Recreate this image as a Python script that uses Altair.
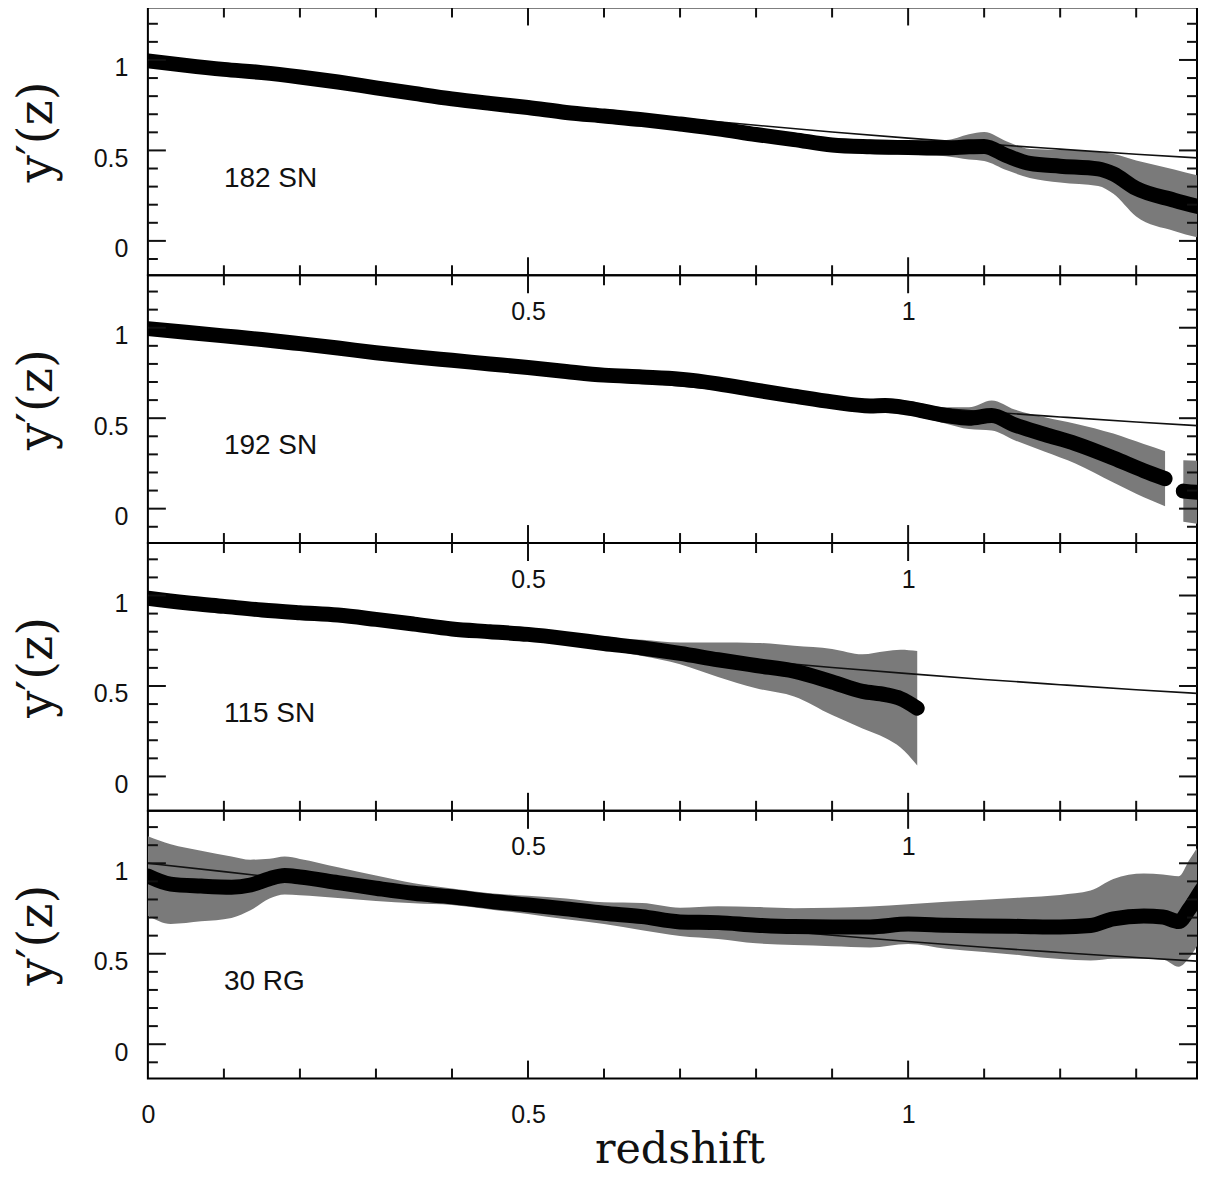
import altair as alt
import pandas as pd

# ---------------- data ----------------
# thin reference (model) curve, same in all panels
model_z = [0.0, 0.1, 0.2, 0.3, 0.4, 0.5, 0.6, 0.7, 0.8, 0.9, 1.0, 1.1, 1.2, 1.3, 1.4]
model_y = [1.0, 0.954, 0.906, 0.858, 0.810, 0.764, 0.720, 0.678, 0.639, 0.602,
           0.568, 0.536, 0.507, 0.479, 0.454]

# panel 1 : 182 SN
p1_z = [0.0, 0.05, 0.1, 0.15, 0.2, 0.25, 0.3, 0.35, 0.4, 0.45, 0.5, 0.55, 0.6, 0.65,
        0.7, 0.75, 0.8, 0.85, 0.9, 0.95, 1.0, 1.05, 1.08, 1.1, 1.13, 1.16, 1.2, 1.25,
        1.27, 1.3, 1.35, 1.4]
p1_y = [0.995, 0.97, 0.948, 0.93, 0.906, 0.878, 0.846, 0.815, 0.785, 0.76, 0.737, 0.71,
        0.69, 0.67, 0.646, 0.62, 0.588, 0.56, 0.53, 0.52, 0.516, 0.513, 0.52, 0.522,
        0.47, 0.428, 0.413, 0.398, 0.37, 0.29, 0.225, 0.17]
p1_err = [0.02, 0.02, 0.02, 0.02, 0.02, 0.02, 0.02, 0.02, 0.02, 0.02, 0.02, 0.02, 0.02,
          0.02, 0.02, 0.02, 0.02, 0.03, 0.035, 0.04, 0.04, 0.045, 0.07, 0.08, 0.08, 0.08,
          0.09, 0.095, 0.11, 0.155, 0.17, 0.17]
p1_seg = [1] * len(p1_z)

# panel 2 : 192 SN (two pieces)
p2_z = [0.0, 0.05, 0.1, 0.15, 0.2, 0.25, 0.3, 0.35, 0.4, 0.45, 0.5, 0.55, 0.6, 0.65,
        0.7, 0.75, 0.8, 0.85, 0.9, 0.95, 0.97, 1.0, 1.05, 1.08, 1.11, 1.14, 1.18, 1.22,
        1.27, 1.31, 1.338, 1.362, 1.387, 1.4]
p2_y = [0.995, 0.975, 0.955, 0.935, 0.912, 0.888, 0.862, 0.84, 0.82, 0.8, 0.78, 0.758,
        0.738, 0.728, 0.716, 0.69, 0.655, 0.622, 0.59, 0.568, 0.57, 0.556, 0.515, 0.5,
        0.515, 0.463, 0.41, 0.36, 0.28, 0.21, 0.166, 0.097, 0.088, 0.085]
p2_err = [0.02, 0.02, 0.02, 0.02, 0.02, 0.02, 0.02, 0.02, 0.02, 0.02, 0.02, 0.02, 0.02,
          0.02, 0.025, 0.025, 0.03, 0.03, 0.03, 0.035, 0.04, 0.04, 0.045, 0.06, 0.083,
          0.085, 0.095, 0.11, 0.135, 0.147, 0.152, 0.17, 0.175, 0.175]
p2_seg = [1] * 31 + [2] * 3

# panel 3 : 115 SN
p3_z = [0.0, 0.05, 0.1, 0.15, 0.2, 0.25, 0.3, 0.35, 0.4, 0.45, 0.5, 0.55, 0.6, 0.65,
        0.7, 0.75, 0.8, 0.85, 0.9, 0.94, 0.97, 0.99, 1.012]
p3_y = [0.985, 0.96, 0.94, 0.92, 0.905, 0.892, 0.868, 0.842, 0.815, 0.8, 0.785, 0.762,
        0.735, 0.71, 0.68, 0.645, 0.613, 0.582, 0.522, 0.47, 0.452, 0.43, 0.377]
p3_err = [0.02, 0.02, 0.02, 0.02, 0.02, 0.02, 0.02, 0.02, 0.02, 0.02, 0.02, 0.02, 0.03,
          0.045, 0.06, 0.095, 0.125, 0.14, 0.183, 0.205, 0.24, 0.27, 0.316]
p3_seg = [1] * len(p3_z)

# panel 4 : 30 RG
p4_z = [0.0, 0.03, 0.07, 0.11, 0.135, 0.16, 0.18, 0.2, 0.25, 0.3, 0.35, 0.4, 0.45, 0.5,
        0.55, 0.6, 0.65, 0.7, 0.75, 0.8, 0.85, 0.9, 0.95, 1.0, 1.05, 1.1, 1.15, 1.2,
        1.24, 1.27, 1.31, 1.335, 1.356, 1.37, 1.387, 1.4]
p4_y = [0.93, 0.885, 0.874, 0.868, 0.88, 0.915, 0.932, 0.924, 0.893, 0.862, 0.834, 0.815,
        0.79, 0.77, 0.748, 0.724, 0.705, 0.676, 0.672, 0.658, 0.65, 0.648, 0.648, 0.664,
        0.658, 0.654, 0.651, 0.648, 0.656, 0.693, 0.708, 0.703, 0.678, 0.749, 0.859, 0.93]
p4_err = [0.22, 0.22, 0.195, 0.17, 0.14, 0.11, 0.105, 0.1, 0.085, 0.07, 0.055, 0.045,
          0.045, 0.05, 0.058, 0.06, 0.075, 0.078, 0.09, 0.1, 0.102, 0.106, 0.113, 0.11,
          0.13, 0.145, 0.16, 0.177, 0.193, 0.22, 0.235, 0.235, 0.25, 0.27, 0.27, 0.28]
p4_seg = [1] * len(p4_z)

panel_labels = ["182 SN", "192 SN", "115 SN", "30 RG"]
label_z = 0.1
label_y = 0.3

x_major = [0.5, 1.0]
x_minor = [0.1, 0.2, 0.3, 0.4, 0.6, 0.7, 0.8, 0.9, 1.1, 1.2, 1.3]
y_major = [0.0, 0.5, 1.0]
y_minor = [-0.1, 0.1, 0.2, 0.3, 0.4, 0.6, 0.7, 0.8, 0.9, 1.1, 1.2]
x_labels_inner = [0.5, 1.0]
x_labels_last = [0.0, 0.5, 1.0]
y_labels = [0.0, 0.5, 1.0]

# ---------------- layout / style ----------------
W, H = 1050, 268
XS = alt.Scale(domain=[0, 1.38], nice=False, zero=False)
YS = alt.Scale(domain=[-0.19, 1.29], nice=False, zero=False)
INK = "#111111"
BAND = "#7a7a7a"
LABEL_FONT = "Liberation Sans"
TITLE_FONT = "DejaVu Serif"
MAJ, MIN = 18, 10

model_df = pd.DataFrame({"z": model_z, "y": model_y})


def make_panel(z, y, err, seg, label, last):
    df = pd.DataFrame({"z": z, "y": y, "err": err, "seg": seg})
    df["lo"] = df["y"] - df["err"]
    df["hi"] = df["y"] + df["err"]

    xaxis = alt.Axis(
        values=x_labels_last if last else x_labels_inner,
        format="~g", grid=False, ticks=False, tickSize=0, domain=False,
        labelFlush=False, labelPadding=24, labelFont=LABEL_FONT, labelFontSize=25,
        labelColor=INK,
        titleFont=TITLE_FONT, titleFontSize=43, titleFontWeight="normal",
        titleColor=INK, titleBaseline="alphabetic", titleAlign="center",
        titleX=532, titleY=84,
    )
    yaxis = alt.Axis(
        values=y_labels, format="~g", grid=False, ticks=False, tickSize=0,
        domain=False, labelFlush=False, labelPadding=20, labelOffset=8,
        labelFont=LABEL_FONT, labelFontSize=25, labelColor=INK,
        titleFont=TITLE_FONT, titleFontSize=48, titleFontWeight="normal",
        titleColor=INK, titleAngle=-90, titleBaseline="middle", titleAlign="center",
        titleX=-110, titleY=124,
    )
    xt = "redshift" if last else None
    yt = "y′(z)"

    def X(field):
        return alt.X(field, type="quantitative", scale=XS, axis=xaxis, title=xt)

    def Y(field):
        return alt.Y(field, type="quantitative", scale=YS, axis=yaxis, title=yt)

    band = alt.Chart(df).mark_area(color=BAND, clip=True, interpolate="monotone").encode(
        x=X("z"), y=Y("lo"), y2="hi:Q", detail="seg:N",
    )
    model = alt.Chart(model_df).mark_line(color=INK, strokeWidth=1.6, clip=True,
                                          interpolate="monotone").encode(
        x=X("z"), y=Y("y"),
    )
    curve = alt.Chart(df).mark_line(color="black", strokeWidth=15, strokeCap="round",
                                    strokeJoin="round", clip=True,
                                    interpolate="monotone").encode(
        x=X("z"), y=Y("y"), detail="seg:N",
    )
    ldf = pd.DataFrame({"z": [label_z], "y": [label_y], "t": [label]})
    text = alt.Chart(ldf).mark_text(align="left", baseline="alphabetic", font=LABEL_FONT,
                                    fontSize=28, color=INK).encode(
        x=X("z"), y=Y("y"), text="t:N",
    )

    layers = [band, model, curve, text]
    for vals, L in ((x_major, MAJ), (x_minor, MIN)):
        base = alt.Chart(pd.DataFrame({"t": vals})).mark_rule(color=INK, strokeWidth=2)
        layers.append(base.encode(x=X("t"), y=alt.value(0), y2=alt.value(L)))
        layers.append(base.encode(x=X("t"), y=alt.value(H), y2=alt.value(H - L)))
    for vals, L in ((y_major, MAJ), (y_minor, MIN)):
        base = alt.Chart(pd.DataFrame({"t": vals})).mark_rule(color=INK, strokeWidth=2)
        layers.append(base.encode(y=Y("t"), x=alt.value(0), x2=alt.value(L)))
        layers.append(base.encode(y=Y("t"), x=alt.value(W), x2=alt.value(W - L)))
    return alt.layer(*layers).properties(width=W, height=H)


panels = [
    make_panel(p1_z, p1_y, p1_err, p1_seg, panel_labels[0], False),
    make_panel(p2_z, p2_y, p2_err, p2_seg, panel_labels[1], False),
    make_panel(p3_z, p3_y, p3_err, p3_seg, panel_labels[2], False),
    make_panel(p4_z, p4_y, p4_err, p4_seg, panel_labels[3], True),
]

chart = alt.vconcat(*panels, spacing=0, bounds="flush").properties(
    padding={"left": 5, "top": -3, "right": 0, "bottom": 0}
).configure_view(stroke="black", strokeWidth=2)

chart.save("out.html", embed_options={"renderer": "svg", "actions": False})
